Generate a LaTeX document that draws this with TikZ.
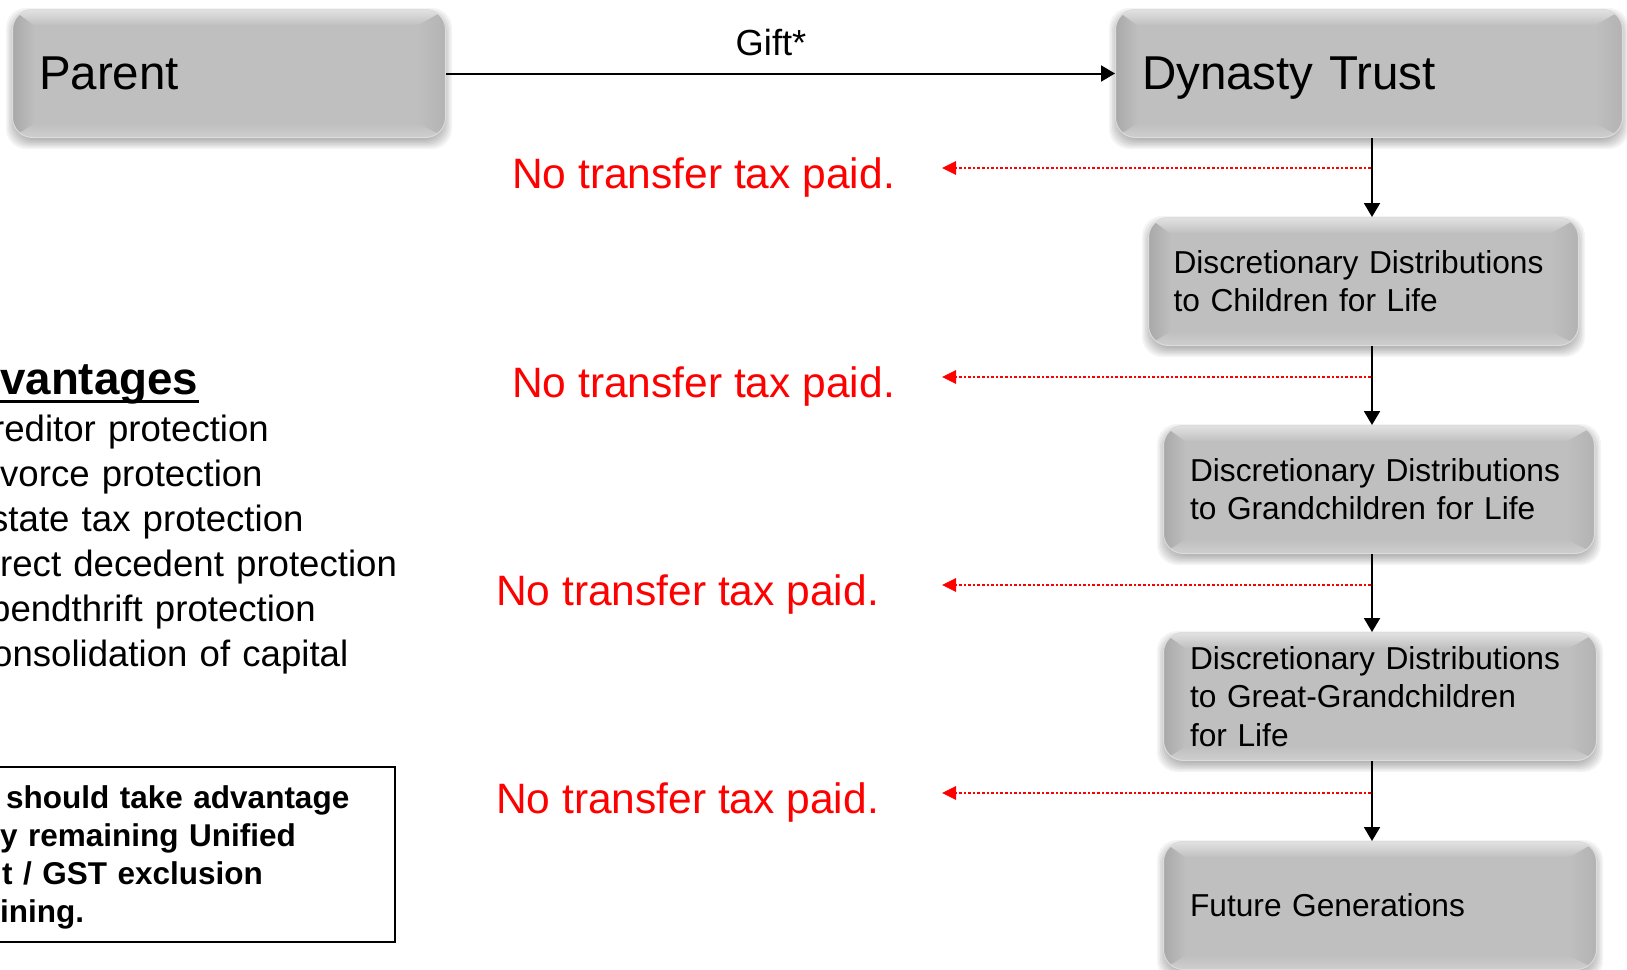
\documentclass[tikz,border=0pt]{standalone}
\usepackage{fontspec}
\setmainfont{Liberation Sans}
\usetikzlibrary{arrows.meta,calc,backgrounds}

\definecolor{boxgray}{HTML}{BFBFBF}
\definecolor{boxlight}{HTML}{E2E2E2}
\definecolor{boxdark}{HTML}{A9A9A9}
\definecolor{boxrim}{HTML}{DCDCDC}
\definecolor{taxred}{HTML}{FF0000}

\newcommand{\fsz}[2]{\fontsize{#1}{#2}\selectfont}

\begin{document}
\begin{tikzpicture}[x=1pt,y=-1pt,
  bevelbox/.style={
    anchor=north west, inner xsep=26.5pt, inner ysep=0pt, align=left,
    rounded corners=20pt, fill=boxgray, draw=boxrim, line width=1pt,
    path picture={
      \coordinate (pa) at (path picture bounding box.north west);
      \coordinate (pb) at (path picture bounding box.north east);
      \coordinate (pc) at (path picture bounding box.south east);
      \coordinate (pd) at (path picture bounding box.south west);
      \coordinate (qa) at ($(pa)+(22,16)$);
      \coordinate (qb) at ($(pb)+(-28,16)$);
      \coordinate (qc) at ($(pc)+(-28,-14)$);
      \coordinate (qd) at ($(pd)+(22,-14)$);
      \fill[sharp corners, left color=boxdark, right color=boxgray]
        (pa) -- (qa) -- (qd) -- (pd) -- cycle;
      \fill[sharp corners, left color=boxgray, right color=boxdark!55!boxgray]
        (pb) -- (qb) -- (qc) -- (pc) -- cycle;
      \fill[sharp corners, top color=boxlight, bottom color=boxgray]
        (pa) -- (pb) -- (qb) -- (qa) -- cycle;
      \fill[sharp corners, top color=boxgray, bottom color=boxgray!75!white]
        (pd) -- (pc) -- (qc) -- (qd) -- cycle;
    }},
  bigtext/.style={font=\fsz{47.5}{57}},
  smalltext/.style={font=\fsz{31.7}{38.2}},
  flow/.style={line width=2pt, -{Triangle[width=16pt,length=14pt]}},
  notax/.style={taxred, line width=2.8pt, dash pattern=on 2.6pt off 2pt,
    -{Triangle[width=13pt,length=14pt]}},
  notaxlbl/.style={anchor=base west, inner sep=0pt, text=taxred, font=\fsz{42.5}{50}},
]
\useasboundingbox (0,0) rectangle (1627,969);
\clip (0,0) rectangle (1627,969);

% generation boxes
\node[bevelbox, bigtext, minimum width=433pt, minimum height=128pt, text width=380pt]
  (par) at (12,9) {Parent};
\node[bevelbox, bigtext, minimum width=507pt, minimum height=128pt, text width=454pt,
  text depth=0pt] (dyn) at (1115,9) {Dynasty Trust};
\node[bevelbox, smalltext, inner xsep=25pt, minimum width=430pt, minimum height=128pt,
  text width=380pt] (ch) at (1148,217) {Discretionary Distributions\\to Children for Life};
\node[bevelbox, smalltext, minimum width=431pt, minimum height=128pt, text width=378pt]
  (gch) at (1163,425) {Discretionary Distributions\\to Grandchildren for Life};
\node[bevelbox, smalltext, minimum width=433pt, minimum height=128pt, text width=380pt]
  (ggch) at (1163,632) {Discretionary Distributions\\to Great-Grandchildren\\for Life};
\node[bevelbox, smalltext, minimum width=433pt, minimum height=128pt, text width=380pt]
  (fut) at (1163,841) {Future Generations};

% soft shadows under the boxes
\begin{scope}[on background layer]
  \fill[white] (0,0) rectangle (1627,969);
  \foreach \b in {par,dyn,ch,gch,ggch,fut}{
    \foreach \s in {-6,-4.5,...,4.5}{
      \fill[black, opacity=0.045, rounded corners=20pt]
        ($(\b.north west)+({\s},{5+(\s)})$) rectangle
        ($(\b.south east)+({-1*(\s)},{5-(\s)})$);
    }
  }
\end{scope}

% gift
\draw[flow] (par.east) -- (dyn.west);
\node[anchor=base, inner sep=0pt, font=\fsz{36.3}{44}] (gift) at (771,55) {Gift*};

% distributions down the generations, along one vertical spine
\coordinate (spine) at (1372,0);
\draw[flow] (spine |- dyn.south) -- (spine |- ch.north);
\draw[flow] (spine |- ch.south) -- (spine |- gch.north);
\draw[flow] (spine |- gch.south) -- (spine |- ggch.north);
\draw[flow] (spine |- ggch.south) -- (spine |- fut.north);

% no transfer tax at each step
\coordinate (tap1) at (1371,168);  \coordinate (tip1) at (942,168);
\coordinate (tap2) at (1371,377);  \coordinate (tip2) at (942,377);
\coordinate (tap3) at (1371,585);  \coordinate (tip3) at (942,585);
\coordinate (tap4) at (1371,793);  \coordinate (tip4) at (942,793);
\draw[notax] (tap1) -- (tip1);
\draw[notax] (tap2) -- (tip2);
\draw[notax] (tap3) -- (tip3);
\draw[notax] (tap4) -- (tip4);
\node[notaxlbl] (lbl1) at (512,188) {No transfer tax paid.};
\node[notaxlbl] (lbl2) at (512,397) {No transfer tax paid.};
\node[notaxlbl] (lbl3) at (496,605) {No transfer tax paid.};
\node[notaxlbl] (lbl4) at (496,813) {No transfer tax paid.};

% advantages list
\node[anchor=base west, inner sep=0pt, font=\fsz{45.7}{50}\bfseries] (advhead) at (0,394) {vantages};
\draw[line width=3pt] ($(advhead.base west)+(-5,7)$) -- ($(advhead.base east)+(0,7)$);
\node[anchor=base west, inner sep=0pt, text width=430pt, align=left, font=\fsz{36.6}{45}]
  (advlist) at (0,441) {\hspace*{-8pt}reditor protection\\
    vorce protection\\
    \hspace*{-10pt}state tax protection\\
    \hspace*{0pt}rect decedent protection\\
    \hspace*{-10pt}pendthrift protection\\
    \hspace*{-8pt}onsolidation of capital};

% exclusion note
\node[draw, line width=2pt, anchor=north west, minimum width=410pt, minimum height=175pt,
  inner sep=0pt] (notebox) at (-16,766) {};
\node[anchor=base west, inner sep=0pt, text width=380pt, align=left,
  font=\fsz{31.5}{38.3}\bfseries] (notetext) at (0,808)
  {\hspace*{6pt}should take advantage\\
   y remaining Unified\\
   \hspace*{2pt}t / GST exclusion\\
   ining.};
\end{tikzpicture}
\end{document}
